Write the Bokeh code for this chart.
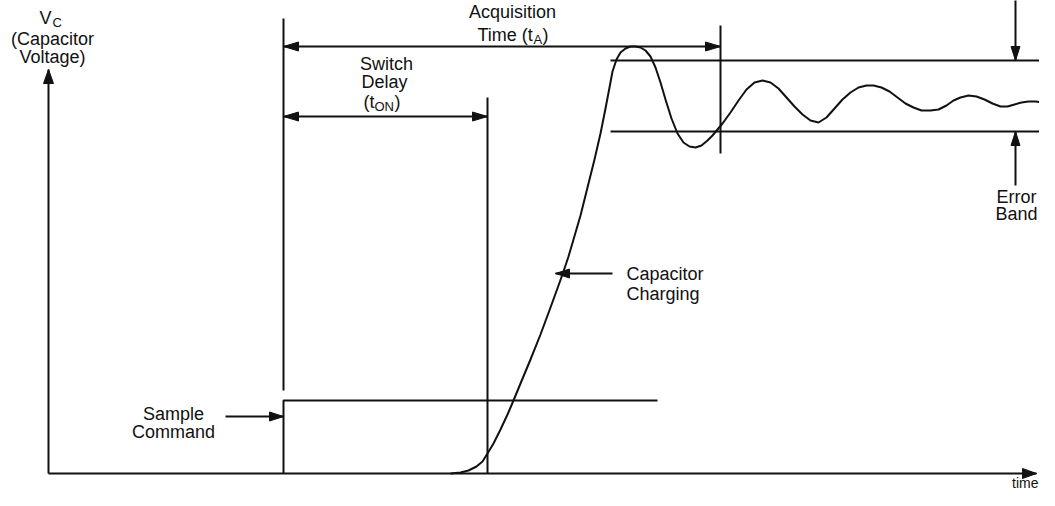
import math
from bokeh.plotting import figure
from bokeh.models import Range1d, ColumnDataSource
from bokeh.core.properties import value
from bokeh.embed import file_html
from bokeh.resources import INLINE

# ---- key instants (time axis) and voltage levels, in drawing units ----
t_axis = 48          # origin of the time axis
t_sample = 283       # sample command edge / start of acquisition
t_switch = 487       # end of switch delay (tON)
t_acq = 720          # end of acquisition time (tA)
t_band_start = 610   # start of error band lines
t_cmd_end = 657      # end of drawn sample command pulse
t_end = 1055         # right edge
v_base = 480         # zero volts
v_cmd = 407          # sample command high level
band_hi = 67         # error band upper limit
band_lo = 138        # error band lower limit

# ---- capacitor voltage curve ----
cap_t = [450, 460, 468, 476, 482, 487, 493, 500, 507, 513, 520, 530, 540, 550, 558,
         563, 568, 573, 580, 587, 594, 600, 605, 609, 612, 616, 620, 625, 630, 635,
         640, 645, 650, 655, 660, 665, 671, 677, 683, 689, 695, 701, 707, 712, 717,
         722, 730, 738, 746, 754, 762, 770, 778, 786, 794, 802, 810, 818, 826, 834,
         842, 850, 858, 866, 873, 881, 889, 897, 905, 913, 921, 930, 938, 946, 953,
         960, 968, 976, 984, 992, 1000, 1007, 1014, 1021, 1028, 1035, 1042, 1049, 1055]
cap_v = [480, 479, 477, 473, 468, 460, 450, 436, 421, 407, 390, 366, 341, 314, 292,
         278, 263, 246, 222, 194, 166, 140, 115, 94, 78, 66, 59, 55, 53, 53,
         54, 57, 63, 74, 89, 106, 125, 140, 149, 153, 154, 152, 147, 142, 136,
         130, 119, 107, 96, 89, 87, 89, 95, 104, 113, 121, 127, 129, 124, 115,
         106, 99, 94, 92, 92, 94, 98, 104, 110, 114, 117, 117, 116, 112, 107,
         104, 102, 103, 106, 110, 113, 113, 111, 109, 108, 108, 109, 110, 110]

FONT = value("Liberation Sans")
INK = "#111111"

p = figure(width=1039, height=490, x_range=Range1d(0, 1039), y_range=Range1d(497, 7),
           output_backend="svg", toolbar_location=None,
           x_axis_location=None, y_axis_location=None, min_border=0)
p.grid.grid_line_color = None
p.outline_line_color = None
p.background_fill_color = "white"
p.border_fill_color = "white"

axis_end = 1036
# straight line segments
segs = [
    ([t_axis, t_axis], [v_base, 76]),                       # V axis
    ([t_axis, axis_end], [v_base, v_base]),                 # time axis
    ([t_sample, t_sample, t_cmd_end], [v_base, v_cmd, v_cmd]),  # sample command
    ([t_sample, t_sample], [25, 397]),                      # acquisition start marker
    ([t_acq, t_acq], [32, 160]),                            # acquisition end marker
    ([t_sample, t_acq], [53, 53]),                          # tA dimension
    ([t_switch, t_switch], [104, v_base]),                  # switch end marker
    ([t_sample, t_switch], [123, 123]),                     # tON dimension
    ([t_band_start, t_end], [band_hi, band_hi]),            # error band top
    ([t_band_start, t_end], [band_lo, band_lo]),            # error band bottom
    ([1015, 1015], [0, band_hi]),                           # error arrow top
    ([1015, 1015], [192, band_lo]),                         # error arrow bottom
    ([612, 555], [280, 280]),                               # charging pointer
    ([225, t_sample], [423, 423]),                          # sample command pointer
]
p.multi_line(xs=[s[0] for s in segs], ys=[s[1] for s in segs],
             line_color=INK, line_width=2)

p.line(cap_t, cap_v, line_color=INK, line_width=2, line_join="round")


def head(tx, ty, dx, dy, L=14, W=4.5):
    n = math.hypot(dx, dy)
    ux, uy = dx / n, dy / n
    px, py = -uy, ux
    bx, by = tx - L * ux, ty - L * uy
    return [tx, bx + W * px, bx - W * px], [ty, by + W * py, by - W * py]


heads = [
    (t_axis, 76, 0, -1, 14, 5),
    (axis_end, v_base, 1, 0, 14, 5),
    (t_sample, 53, -1, 0, 15, 4.5),
    (t_acq, 53, 1, 0, 15, 4.5),
    (t_sample, 123, -1, 0, 15, 4.5),
    (t_switch, 123, 1, 0, 15, 4.5),
    (1015, band_hi, 0, 1, 14, 4.5),
    (1015, band_lo, 0, -1, 14, 4.5),
    (555, 280, -1, 0, 14, 4.5),
    (t_sample, 423, 1, 0, 14, 4.5),
]
hx, hy = [], []
for h in heads:
    a, b = head(*h)
    hx.append(a)
    hy.append(b)
p.patches(hx, hy, fill_color=INK, line_color=INK, line_width=1)

# ---- labels ----
center_src = ColumnDataSource(dict(
    x=[52, 52, 512, 386, 384, 173, 173, 1016, 1016],
    y=[45, 63, 18, 70, 88, 420, 438, 203, 220],
    t=["(Capacitor", "Voltage)", "Acquisition", "Switch", "Delay",
       "Sample", "Command", "Error", "Band"]))
p.text(x="x", y="y", text="t", source=center_src, text_font=FONT,
       text_font_size="18px", text_align="center", text_baseline="middle",
       text_color=INK)

left_src = ColumnDataSource(dict(
    x=[39, 477, 542, 363, 394, 626, 626],
    y=[24, 41, 41, 108, 108, 280, 300],
    t=["V", "Time (t", ")", "(t", ")", "Capacitor", "Charging"]))
p.text(x="x", y="y", text="t", source=left_src, text_font=FONT,
       text_font_size="18px", text_align="left", text_baseline="middle",
       text_color=INK)

sub_src = ColumnDataSource(dict(
    x=[52, 533, 374],
    y=[29, 46, 113],
    t=["C", "A", "ON"]))
p.text(x="x", y="y", text="t", source=sub_src, text_font=FONT,
       text_font_size="13px", text_align="left", text_baseline="middle",
       text_color=INK)

p.text(x=[1038], y=[489], text=["time"], text_font=FONT, text_font_size="14px",
       text_align="right", text_baseline="middle", text_color=INK)

open("out.html", "w").write(file_html(p, INLINE))
